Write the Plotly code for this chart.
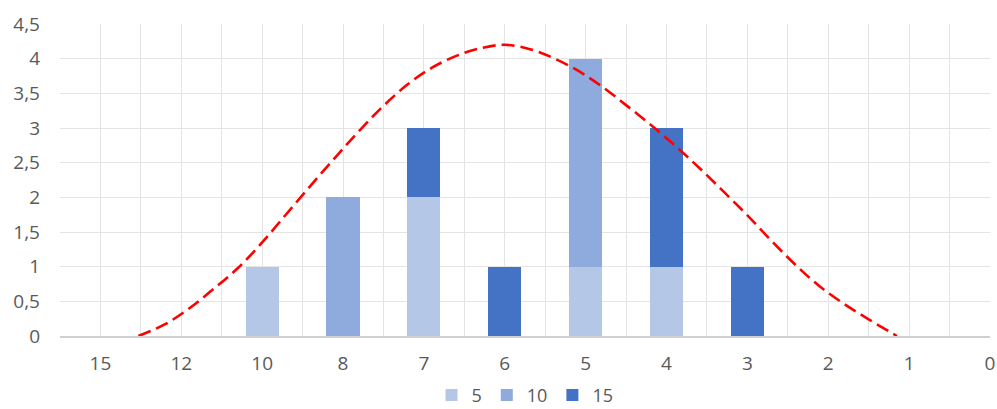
import plotly.graph_objects as go

categories = ["15", "12", "10", "8", "7", "6", "5", "4", "3", "2", "1", "0"]
series_names = ["5", "10", "15"]
s5 = [0, 0, 1, 0, 2, 0, 1, 1, 0, 0, 0, 0]
s10 = [0, 0, 0, 2, 0, 0, 3, 0, 0, 0, 0, 0]
s15 = [0, 0, 0, 0, 1, 1, 0, 2, 1, 0, 0, 0]

# dashed curve (x in category-position units)
curve_x = [0.47, 0.80, 1.10, 1.40, 1.70, 2.00, 2.30, 2.60, 2.90, 3.20, 3.50, 3.80,
           4.10, 4.40, 4.70, 5.00, 5.30, 5.60, 5.90, 6.20, 6.50, 6.80, 7.10, 7.40,
           7.70, 8.00, 8.30, 8.60, 8.90, 9.20, 9.50, 9.85]
curve_y = [0.00, 0.17, 0.40, 0.68, 0.98, 1.35, 1.76, 2.17, 2.57, 2.96, 3.32, 3.63,
           3.87, 4.04, 4.15, 4.20, 4.14, 4.01, 3.83, 3.60, 3.33, 3.05, 2.75, 2.43,
           2.09, 1.74, 1.37, 1.02, 0.71, 0.46, 0.24, 0.00]

colors = ["#B4C7E7", "#8FAADC", "#4472C4"]
pos = list(range(len(categories)))

fig = go.Figure()
for name, vals, col in zip(series_names, [s5, s10, s15], colors):
    fig.add_trace(go.Bar(x=pos, y=vals, name=name, marker=dict(color=col, line=dict(width=0)),
                         width=0.41))

fig.add_trace(go.Scatter(x=curve_x, y=curve_y, mode="lines", showlegend=False,
                         line=dict(color="#FF0000", width=2.6, dash="13px,6px",
                                   shape="spline", smoothing=1.0)))

fig.update_layout(
    width=997, height=409,
    barmode="stack",
    separators=", ",
    plot_bgcolor="white", paper_bgcolor="white",
    margin=dict(l=60, r=7, t=24, b=73, autoexpand=False),
    font=dict(family="Open Sans", size=19, color="#595959"),
    hovermode=False,
    legend=dict(orientation="h", x=0.5, xanchor="center", y=-0.19,
                yanchor="middle", font=dict(size=18, color="#595959"), itemwidth=30,
                traceorder="normal"),
)
fig.update_xaxes(
    range=[-0.5, 11.0001], tickmode="array", tickvals=pos, ticktext=categories,
    showgrid=True, gridcolor="#E4E4E4", gridwidth=1,
    minor=dict(tickmode="linear", tick0=-0.5, dtick=1, showgrid=True, gridcolor="#E4E4E4", gridwidth=1),
    showline=True, linecolor="#D0D0D0", linewidth=1.5, zeroline=False,
    ticks="", ticklabelstandoff=10, fixedrange=True, automargin=False,
)
fig.update_yaxes(
    range=[0, 4.5], tickmode="linear", tick0=0, dtick=0.5,
    showgrid=True, gridcolor="#E4E4E4", gridwidth=1, zeroline=False,
    ticks="", ticklabelstandoff=19, fixedrange=True, automargin=False,
)

fig.write_html("out.html", config={"displayModeBar": False, "staticPlot": True},
               post_script="document.body.style.margin='0px';document.body.style.overflow='hidden';")
